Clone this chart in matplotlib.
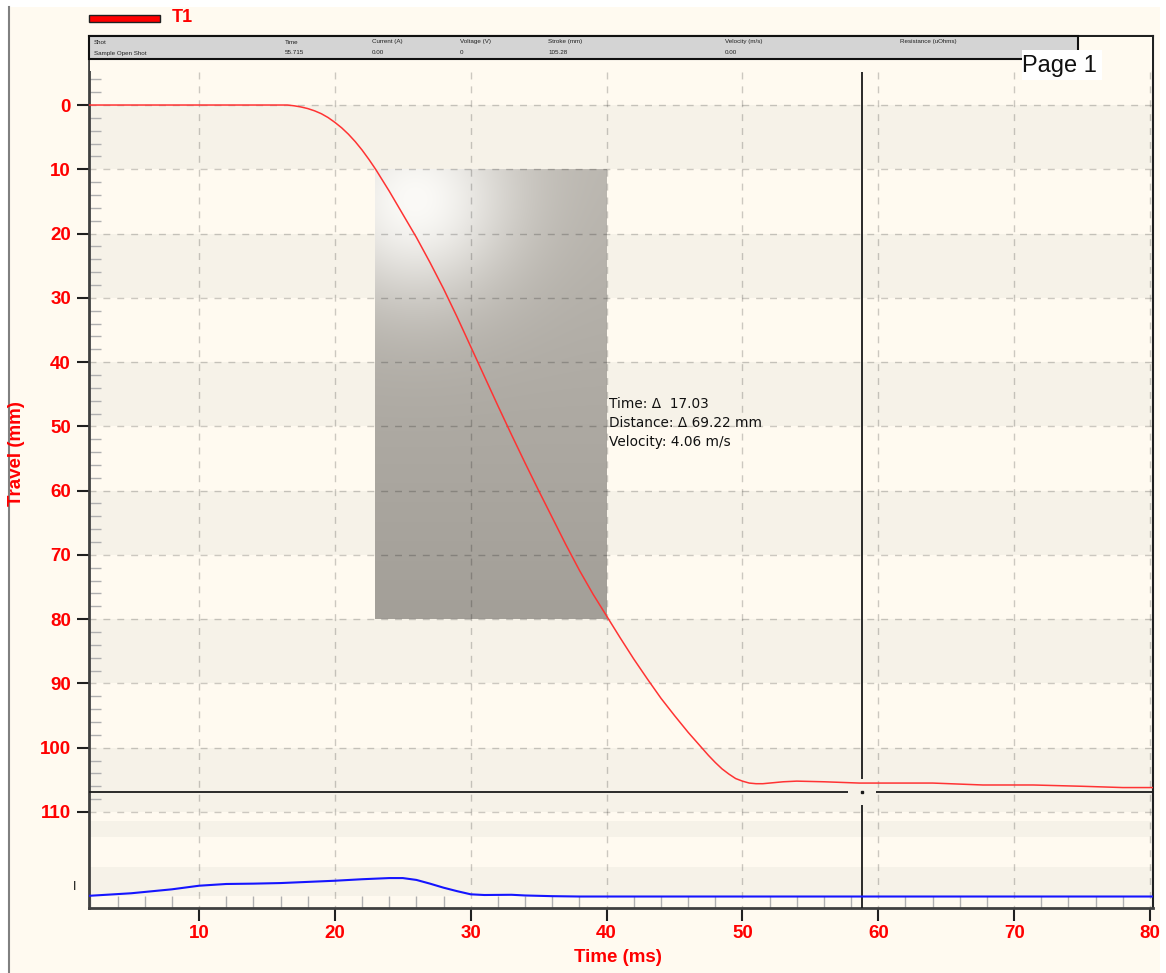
import numpy as np
import matplotlib
matplotlib.use('Agg')
import matplotlib.pyplot as plt
from matplotlib.patches import Rectangle
from matplotlib.ticker import FixedLocator

plt.rcParams['font.family'] = ['Liberation Sans', 'DejaVu Sans']

W, H = 1166, 973
CREAM = '#FFFAF0'
BAND = '#F6F2E8'
RED = '#FF0000'

# ---- data ----
# T1 travel trace (ms, mm)
time_t1 = [1.9, 10, 16.5, 17.0, 17.5, 18.0, 18.5, 19.0, 19.5, 20.0, 20.5, 21.0, 21.5,
           22.0, 22.5, 23, 24, 25, 26, 27, 28, 29, 30, 31, 32, 33, 34, 35, 36, 37, 38,
           39, 40, 41, 42, 43, 44, 45, 46, 47, 47.5, 48, 48.5, 49, 49.5, 50, 50.5, 51,
           51.5, 52, 53, 54, 56, 58.6, 64, 67.7, 71.4, 75, 78, 80.2]
travel_t1 = [0, 0, 0, 0.12, 0.3, 0.55, 0.9, 1.35, 1.95, 2.7, 3.55, 4.55, 5.7, 7.0, 8.45,
             10.0, 13.4, 17.0, 20.6, 24.5, 28.6, 33.0, 37.6, 42.2, 46.8, 51.3, 55.7,
             60.0, 64.2, 68.4, 72.4, 76.1, 79.5, 82.9, 86.2, 89.3, 92.3, 95.0, 97.6,
             100.0, 101.2, 102.3, 103.3, 104.1, 104.8, 105.2, 105.5, 105.6, 105.6,
             105.5, 105.3, 105.2, 105.3, 105.5, 105.5, 105.8, 105.8, 106.0, 106.2, 106.2]

# lower channel (relative level in its own strip)
time_ch2 = [1.9, 5, 8, 10, 12, 14, 16, 18, 20, 22, 24, 25, 26, 27, 28, 29, 30, 31, 33,
            34, 36, 38, 80.2]
level_ch2 = [0.105, 0.127, 0.161, 0.192, 0.207, 0.21, 0.215, 0.225, 0.235, 0.248, 0.258,
             0.258, 0.242, 0.21, 0.175, 0.145, 0.118, 0.112, 0.114, 0.108, 0.102, 0.099,
             0.099]

x_major = [10, 20, 30, 40, 50, 60, 70, 80]
y_major = [0, 10, 20, 30, 40, 50, 60, 70, 80, 90, 100, 110]

# measurement box / cursor
meas_t = (22.98, 40.01)
meas_d = (10.0, 80.0)
meas_lines = ['Time: \u0394  17.03', 'Distance: \u0394 69.22 mm', 'Velocity: 4.06 m/s']
cursor_t = 58.8
cursor_d = 106.9

header_cols = ['Shot', 'Time', 'Current (A)', 'Voltage (V)', 'Stroke (mm)',
               'Velocity (m/s)', 'Resistance (uOhms)']
header_vals = ['Sample Open Shot', '55.715', '0.00', '0', '105.28', '0.00', '']
header_x = [94, 285, 372, 460, 548, 725, 900]

XMIN, XMAX = 1.9, 80.22
YTOP, YBOT = -10.74, 124.94


def px(x, y):
    return x / W, 1 - y / H


fig = plt.figure(figsize=(W / 100, H / 100), dpi=100, facecolor='white')


def fig_rect(x0, y0, x1, y1, **kw):
    r = Rectangle(px(x0, y1), (x1 - x0) / W, (y1 - y0) / H,
                  transform=fig.transFigure, **kw)
    fig.add_artist(r)
    return r


# page background + left frame line
fig_rect(9, 7, 1160, 973, facecolor=CREAM, edgecolor='none', zorder=-5)
fig.add_artist(plt.Line2D([8.5 / W, 8.5 / W], [0, 1 - 7 / H], color='#808080',
                          lw=1.5, transform=fig.transFigure, zorder=-4))

ax = fig.add_axes([89 / W, 1 - 908 / H, (1153 - 89) / W, (908 - 36) / H])
ax.set_facecolor(CREAM)

# alternating bands
for a, b in [(0, 10), (20, 30), (40, 50), (60, 70), (80, 90), (100, 110),
             (111.4, 113.9), (118.6, 123.1)]:
    ax.axhspan(a, b, color=BAND, lw=0, zorder=0.1)

# shaded measurement box
hh, ww = 450, 232
yy, xx = np.mgrid[0:hh, 0:ww]
d = np.hypot(xx - 40, yy - 30)
top_c = np.array([0xBA, 0xB6, 0xAF]) / 255
bot_c = np.array([0xA3, 0x9F, 0x98]) / 255
base = top_c + (bot_c - top_c) * (yy / hh)[..., None]
wgt = np.exp(-(d / 100.0) ** 2)[..., None]
white = np.array([0xFB, 0xFA, 0xF7]) / 255
img = base * (1 - wgt) + white * wgt
ax.imshow(img, extent=(meas_t[0], meas_t[1], meas_d[1], meas_d[0]), aspect='auto',
          interpolation='bilinear', zorder=0.3)

# grid
ax.set_axisbelow(True)
ax.set_yticks(y_major)
ax.yaxis.grid(True, which='major', color='black', alpha=0.2, ls=(0, (5, 5)), lw=1.0)
ax.vlines(x_major, -5.1, YBOT, colors='black', alpha=0.2, linestyles=(0, (5, 5)),
          lw=1.0, zorder=0.5)

# traces
ax.plot(time_t1, travel_t1, color='#FF3333', lw=1.1, zorder=3)

# cursor crosshair
ax.vlines(cursor_t, -5.1, cursor_d - 2.0, color='#1A1A1A', lw=1.3, zorder=4)
ax.vlines(cursor_t, cursor_d + 2.0, YBOT, color='#1A1A1A', lw=1.3, zorder=4)
ax.hlines(cursor_d, XMIN, cursor_t - 1.0, color='#1A1A1A', lw=1.3, zorder=4)
ax.hlines(cursor_d, cursor_t + 1.0, XMAX, color='#1A1A1A', lw=1.3, zorder=4)
ax.plot([cursor_t], [cursor_d], marker='s', ms=1.5, color='#1A1A1A', zorder=4)

# measurement text
for i, line in enumerate(meas_lines):
    ax.text(40.17, 46.5 + i * 2.96, line, fontsize=9.8, family='DejaVu Sans',
            color='#111111', va='center', ha='left', zorder=5)

ax.set_xlim(XMIN, XMAX)
ax.set_ylim(YBOT, YTOP)

# ticks
ax.set_xticks(x_major)
ax.set_xticklabels([str(v) for v in x_major], fontweight='bold')
ax.set_yticklabels([str(v) for v in y_major], fontweight='bold')
ax.xaxis.set_minor_locator(FixedLocator([v for v in range(2, 81, 2) if v % 10]))
ax.yaxis.set_minor_locator(FixedLocator([v for v in range(-10, 109, 2) if v % 10]))
ax.tick_params(which='major', direction='out', length=9, width=1.5, color='#202020',
               labelsize=13.5, labelcolor=RED)
ax.tick_params(axis='y', which='major', pad=4)
ax.tick_params(axis='x', which='major', pad=3)
ax.tick_params(which='minor', direction='in', length=8.5, width=1.0, color='#B0B0B0')

for side in ['left', 'bottom']:
    ax.spines[side].set_color('#404040')
    ax.spines[side].set_linewidth(2)
for side in ['top', 'right']:
    ax.spines[side].set_color('#202020')
    ax.spines[side].set_linewidth(1.5)

# lower channel strip
ax2 = fig.add_axes([89 / W, 1 - 908 / H, (1153 - 89) / W, 116 / H], sharex=ax)
ax2.set_facecolor('none')
for s in ax2.spines.values():
    s.set_visible(False)
ax2.set_ylim(0, 1)
ax2.plot(time_ch2, level_ch2, color='#1515FF', lw=1.5, zorder=3)
ax2.set_yticks([0.198])
ax2.set_yticklabels(['I'])
ax2.tick_params(axis='y', length=0, pad=9, labelsize=9, labelcolor='#111111')
ax2.tick_params(axis='x', which='both', bottom=False, labelbottom=False)
ax2.set_xlim(XMIN, XMAX)

# header table
fig_rect(90, 37, 1152, 71, facecolor=CREAM, edgecolor='none', zorder=5)
fig_rect(89, 36, 1078, 59, facecolor='#D4D4D4', edgecolor='#101010', lw=1.5, zorder=6)
for x, col, val in zip(header_x, header_cols, header_vals):
    fig.text(*px(x, 42), col, fontsize=4.5, color='#202020', va='center', zorder=7)
    fig.text(*px(x, 53), val, fontsize=4.5, color='#202020', va='center', zorder=7)

fig_rect(1022, 50, 1102, 80, facecolor='white', edgecolor='none', zorder=7)
fig.text(*px(1022, 66), 'Page 1', fontsize=17, color='#101010', va='center',
         ha='left', zorder=8)

# legend
fig_rect(89, 15, 160, 22, facecolor=RED, edgecolor='#202020', lw=1.0, zorder=6)
fig.text(*px(172, 18), 'T1', fontsize=13, fontweight='bold', color=RED,
         va='center', ha='left')

# axis titles
fig.text(*px(17, 454), 'Travel (mm)', rotation=90, fontsize=13.5, fontweight='bold',
         color=RED, va='center', ha='center')
fig.text(*px(618, 958), 'Time (ms)', fontsize=13.5, fontweight='bold', color=RED,
         va='center', ha='center')

fig.savefig('out.png', dpi=100, facecolor='white')
